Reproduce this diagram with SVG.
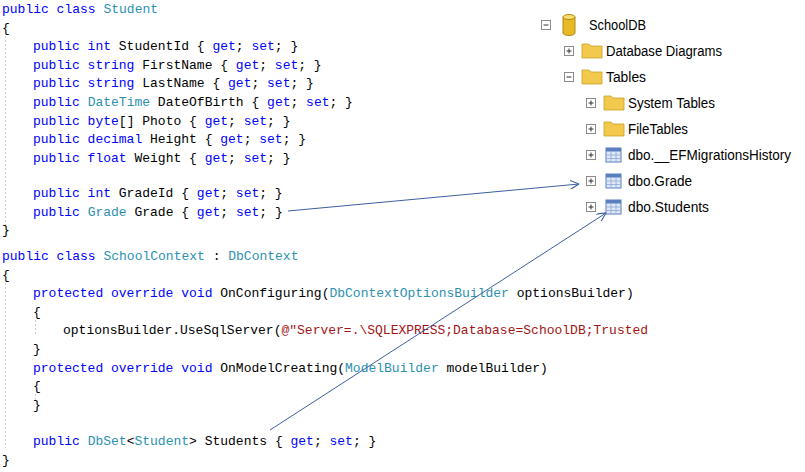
<svg xmlns="http://www.w3.org/2000/svg" width="805" height="472" viewBox="0 0 805 472">
<defs>
<style>
.c{font-family:"Liberation Mono","DejaVu Sans Mono",monospace;font-size:13px;fill:#000;white-space:pre}
.k{fill:#0000ff}.t{fill:#2b91af}.s{fill:#a31515}
.tr{font-family:"Liberation Sans","Open Sans",sans-serif;font-size:15.5px;fill:#000}
.bx{fill:#fff;stroke:#8a8a8a;stroke-width:1}
.pm{stroke:#333;stroke-width:1}
.fold{fill:#f2c94c;stroke:#c9a22a;stroke-width:0.8}
.tbl{fill:#dfe8f6;stroke:#5a7fbf;stroke-width:1}
.con{stroke:#3d5f9e;stroke-width:1;fill:none}
</style>
<marker id="ah" viewBox="0 0 10 10" refX="10" refY="5" markerWidth="9" markerHeight="9" orient="auto" markerUnits="userSpaceOnUse"><path d="M0,0 L10,5 L0,10" fill="none" stroke="#3d5f9e" stroke-width="1.2"/></marker>
<g id="plus"><rect class="bx" x="-4.5" y="-4.5" width="9" height="9"/><path class="pm" d="M-2.5,0H2.5M0,-2.5V2.5"/></g>
<g id="minus"><rect class="bx" x="-4.5" y="-4.5" width="9" height="9"/><path class="pm" d="M-2.5,0H2.5"/></g>
<g id="folder"><path class="fold" d="M0,2h7l2,2h11v12h-20z"/></g>
<g id="table"><rect class="tbl" x="0" y="0" width="15" height="14"/><rect x="0" y="0" width="15" height="3.5" fill="#5a7fbf"/><path d="M5,3.5V14M10,3.5V14M0,7H15M0,10.5H15" stroke="#8fa8d6" stroke-width="0.8"/></g>
</defs>
<rect width="805" height="472" fill="#fff"/>
<path d="M5.5,36V228M5.5,283V448M35.5,320V335M35.5,394V400" stroke="#ccc" stroke-dasharray="2,2"/>
<g id="code">
<text class="c" x="2" y="13"><tspan class="k">public class</tspan> <tspan class="t">Student</tspan></text>
<text class="c" x="2" y="31.6">{</text>
<text class="c" x="33" y="50.2"><tspan class="k">public int</tspan> StudentId { <tspan class="k">get</tspan>; <tspan class="k">set</tspan>; }</text>
<text class="c" x="33" y="68.8"><tspan class="k">public string</tspan> FirstName { <tspan class="k">get</tspan>; <tspan class="k">set</tspan>; }</text>
<text class="c" x="33" y="87.4"><tspan class="k">public string</tspan> LastName { <tspan class="k">get</tspan>; <tspan class="k">set</tspan>; }</text>
<text class="c" x="33" y="106"><tspan class="k">public</tspan> <tspan class="t">DateTime</tspan> DateOfBirth { <tspan class="k">get</tspan>; <tspan class="k">set</tspan>; }</text>
<text class="c" x="33" y="124.6"><tspan class="k">public byte</tspan>[] Photo { <tspan class="k">get</tspan>; <tspan class="k">set</tspan>; }</text>
<text class="c" x="33" y="143.2"><tspan class="k">public decimal</tspan> Height { <tspan class="k">get</tspan>; <tspan class="k">set</tspan>; }</text>
<text class="c" x="33" y="161.8"><tspan class="k">public float</tspan> Weight { <tspan class="k">get</tspan>; <tspan class="k">set</tspan>; }</text>
<text class="c" x="33" y="197"><tspan class="k">public int</tspan> GradeId { <tspan class="k">get</tspan>; <tspan class="k">set</tspan>; }</text>
<text class="c" x="33" y="215.6"><tspan class="k">public</tspan> <tspan class="t">Grade</tspan> Grade { <tspan class="k">get</tspan>; <tspan class="k">set</tspan>; }</text>
<text class="c" x="2" y="234.2">}</text>
<text class="c" x="2" y="260"><tspan class="k">public class</tspan> <tspan class="t">SchoolContext</tspan> : <tspan class="t">DbContext</tspan></text>
<text class="c" x="2" y="278.6">{</text>
<text class="c" x="33" y="297.2"><tspan class="k">protected override void</tspan> OnConfiguring(<tspan class="t">DbContextOptionsBuilder</tspan> optionsBuilder)</text>
<text class="c" x="33" y="315.8">{</text>
<text class="c" x="63" y="334.4">optionsBuilder.UseSqlServer(<tspan class="s">@"Server=.\SQLEXPRESS;Database=SchoolDB;Trusted</tspan></text>
<text class="c" x="33" y="353">}</text>
<text class="c" x="33" y="371.6"><tspan class="k">protected override void</tspan> OnModelCreating(<tspan class="t">ModelBuilder</tspan> modelBuilder)</text>
<text class="c" x="33" y="390.2">{</text>
<text class="c" x="33" y="408.8">}</text>
<text class="c" x="33" y="445"><tspan class="k">public</tspan> <tspan class="t">DbSet</tspan>&lt;<tspan class="t">Student</tspan>&gt; Students { <tspan class="k">get</tspan>; <tspan class="k">set</tspan>; }</text>
<text class="c" x="2" y="463.6">}</text>
</g>
<g id="tree">
<g id="n-schooldb"><use href="#minus" x="546" y="25"/>
<path d="M563,17v16a6,2.5 0 0 0 12,0v-16z" fill="#e8b923" stroke="#b08a10"/><ellipse cx="569" cy="17" rx="6" ry="2.5" fill="#f7dc6f" stroke="#b08a10"/>
<text class="tr" x="589" y="30" textLength="57" lengthAdjust="spacingAndGlyphs">SchoolDB</text></g>
<g id="n-diagrams"><use href="#plus" x="569" y="51"/><use href="#folder" x="582" y="42"/><text class="tr" x="606" y="56" textLength="116" lengthAdjust="spacingAndGlyphs">Database Diagrams</text></g>
<g id="n-tables"><use href="#minus" x="569" y="77"/><use href="#folder" x="582" y="68"/><text class="tr" x="606" y="82" textLength="40" lengthAdjust="spacingAndGlyphs">Tables</text></g>
<g id="n-system"><use href="#plus" x="591" y="103"/><use href="#folder" x="604" y="94"/><text class="tr" x="628" y="108" textLength="87" lengthAdjust="spacingAndGlyphs">System Tables</text></g>
<g id="n-file"><use href="#plus" x="591" y="129"/><use href="#folder" x="604" y="120"/><text class="tr" x="628" y="134" textLength="60" lengthAdjust="spacingAndGlyphs">FileTables</text></g>
<g id="n-mig"><use href="#plus" x="591" y="155"/><use href="#table" x="606" y="148"/><text class="tr" x="628" y="160" style="font-size:14px" textLength="163" lengthAdjust="spacingAndGlyphs">dbo.__EFMigrationsHistory</text></g>
<g id="n-grade"><use href="#plus" x="591" y="181"/><use href="#table" x="606" y="174"/><text class="tr" x="628" y="186" textLength="64" lengthAdjust="spacingAndGlyphs">dbo.Grade</text></g>
<g id="n-students"><use href="#plus" x="591" y="207"/><use href="#table" x="606" y="200"/><text class="tr" x="628" y="212" textLength="81" lengthAdjust="spacingAndGlyphs">dbo.Students</text></g>
</g>
<g id="connectors">
<line class="con" x1="288" y1="211" x2="579" y2="184" marker-end="url(#ah)"/>
<line class="con" x1="270" y1="430" x2="606" y2="213" marker-end="url(#ah)"/>
</g>
</svg>
